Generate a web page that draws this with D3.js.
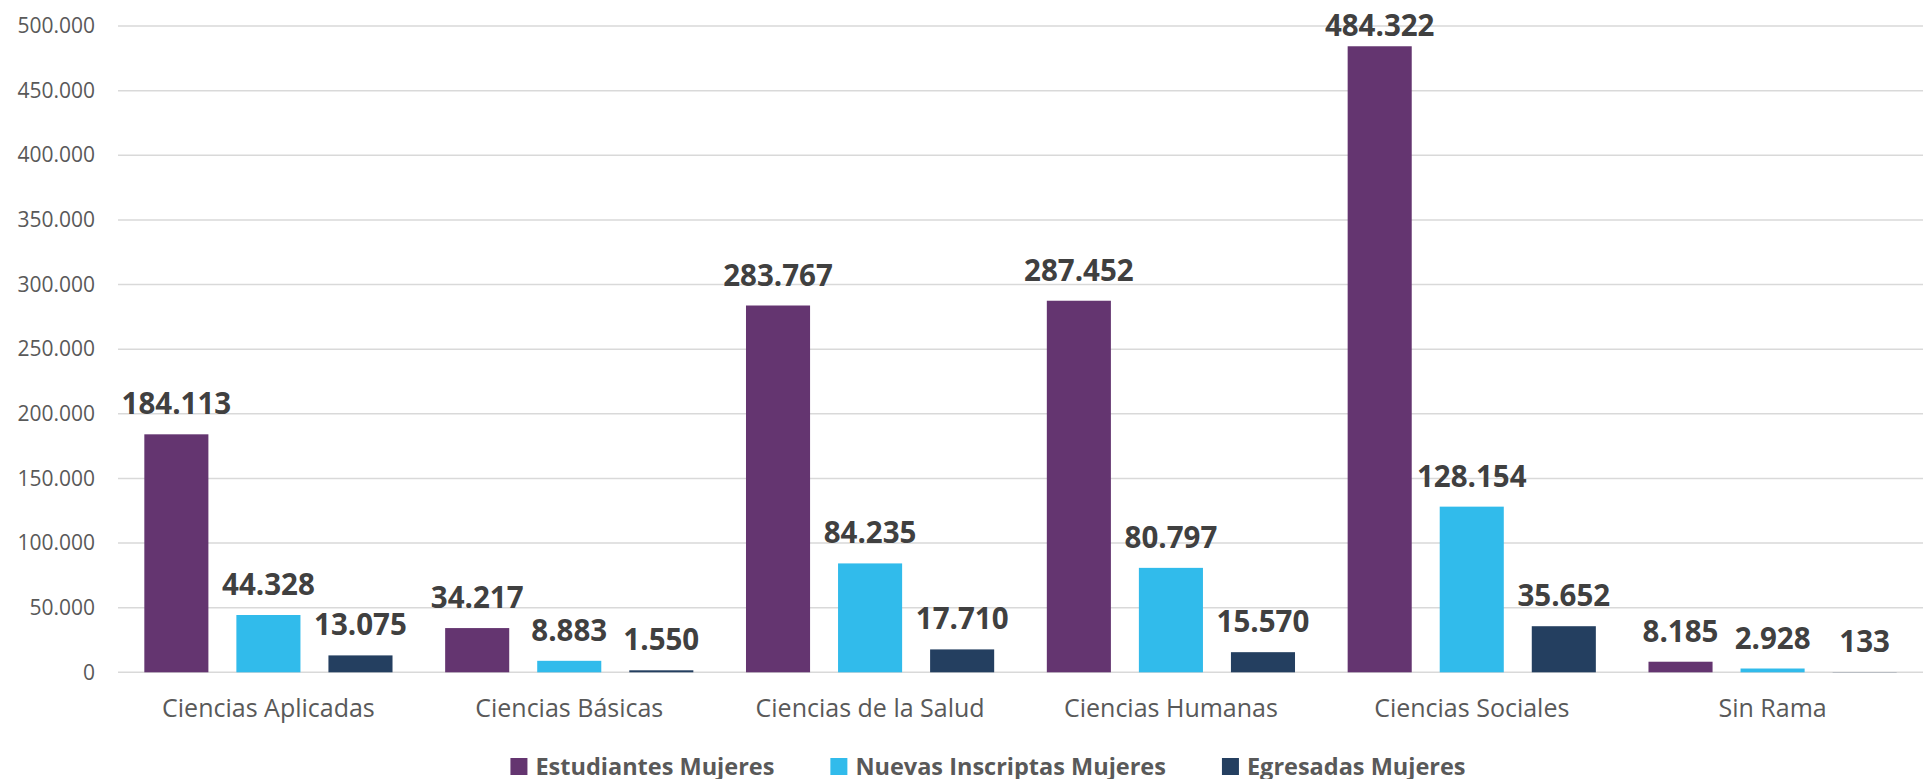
<!DOCTYPE html>
<html>
<head>
<meta charset="utf-8">
<script src="https://cdn.jsdelivr.net/npm/d3@7"></script>
<style>
  body { margin: 0; background: #fff; }
  svg { display: block; }
</style>
</head>
<body>
<script>
// Mujeres por rama de estudio

var categories = ["Ciencias Aplicadas", "Ciencias Básicas", "Ciencias de la Salud",
                  "Ciencias Humanas", "Ciencias Sociales", "Sin Rama"];
var seriesNames = ["Estudiantes Mujeres", "Nuevas Inscriptas Mujeres", "Egresadas Mujeres"];
var estudiantes = [184113, 34217, 283767, 287452, 484322, 8185];
var nuevas = [44328, 8883, 84235, 80797, 128154, 2928];
var egresadas = [13075, 1550, 17710, 15570, 35652, 133];
var yTicks = [0, 50000, 100000, 150000, 200000, 250000, 300000, 350000, 400000, 450000, 500000];
var colors = ["#643570", "#31bbeb", "#243f60"];

var seriesValues = [estudiantes, nuevas, egresadas];

var width = 1923;
var height = 779;
var plotLeft = 118, plotRight = 1923, plotTop = 26, plotBottom = 672.3;

var locale = d3.formatLocale({decimal: ",", thousands: ".", grouping: [3], currency: ["$", ""]});
var fmt = locale.format(",d");

var svg = d3.select("body").append("svg")
    .attr("width", width)
    .attr("height", height);

var y = d3.scaleLinear().domain([0, 500000]).range([plotBottom, plotTop]);

var x0 = d3.scaleBand()
    .domain(categories)
    .range([plotLeft, plotRight])
    .paddingInner(0.175)
    .paddingOuter(0.0875);

var x1 = d3.scaleBand()
    .domain(d3.range(seriesNames.length))
    .range([0, x0.bandwidth()])
    .paddingInner(0.304)
    .paddingOuter(0);

// gridlines
svg.append("g")
  .selectAll("line")
  .data(yTicks)
  .join("line")
    .attr("x1", plotLeft)
    .attr("x2", plotRight)
    .attr("y1", function(d) { return y(d); })
    .attr("y2", function(d) { return y(d); })
    .attr("stroke", "#d9d9d9")
    .attr("stroke-width", 1.5);

// y axis labels
var yAxis = svg.append("g")
    .attr("transform", "translate(" + (plotLeft - 10) + ",0)")
    .call(d3.axisLeft(y).tickValues(yTicks).tickFormat(fmt).tickSize(0).tickPadding(13));
yAxis.select(".domain").remove();
yAxis.selectAll("text")
    .style("font-family", "'Open Sans', sans-serif")
    .style("font-size", "21px")
    .attr("fill", "#595959");

// x axis labels
var xAxis = svg.append("g")
    .attr("transform", "translate(0," + plotBottom + ")")
    .call(d3.axisBottom(x0).tickSize(0).tickPadding(27));
xAxis.select(".domain").remove();
xAxis.selectAll("text")
    .style("font-family", "'Open Sans', sans-serif")
    .style("font-size", "25px")
    .attr("fill", "#595959");

// bars
var rows = [];
categories.forEach(function(c, ci) {
  seriesValues.forEach(function(vals, si) {
    rows.push({cat: c, s: si, v: vals[ci]});
  });
});

svg.append("g")
  .selectAll("rect")
  .data(rows)
  .join("rect")
    .attr("x", function(d) { return x0(d.cat) + x1(d.s); })
    .attr("y", function(d) { return y(d.v); })
    .attr("width", x1.bandwidth())
    .attr("height", function(d) { return plotBottom - y(d.v); })
    .attr("fill", function(d) { return colors[d.s]; });

// value labels (kept inside the chart area at the top)
svg.append("g")
  .selectAll("text")
  .data(rows)
  .join("text")
    .text(function(d) { return fmt(d.v); })
    .attr("x", function(d) { return x0(d.cat) + x1(d.s) + x1.bandwidth() / 2; })
    .attr("y", function(d) { return Math.max(y(d.v) - 20, 36); })
    .attr("text-anchor", "middle")
    .style("font-family", "'Open Sans', sans-serif")
    .style("font-weight", "bold")
    .style("font-size", "29.5px")
    .attr("fill", "#404040");

// legend
var legend = svg.append("g");
var items = legend.selectAll("g")
  .data(seriesNames)
  .join("g");
items.append("rect")
    .attr("width", 17)
    .attr("height", 17)
    .attr("y", 758)
    .attr("fill", function(d, i) { return colors[i]; });
items.append("text")
    .text(function(d) { return d; })
    .attr("x", 25)
    .attr("y", 775)
    .style("font-family", "'Open Sans', sans-serif")
    .style("font-weight", "bold")
    .style("font-size", "23.5px")
    .attr("fill", "#595959");

var xpos = 0;
var offsets = [];
items.each(function() {
  offsets.push(xpos);
  var w = this.querySelector("text").getComputedTextLength();
  xpos += 25 + w + 56;
});
var total = xpos - 56;
var start = 988 - total / 2;
items.attr("transform", function(d, i) { return "translate(" + (start + offsets[i]) + ",0)"; });
</script>
</body>
</html>
